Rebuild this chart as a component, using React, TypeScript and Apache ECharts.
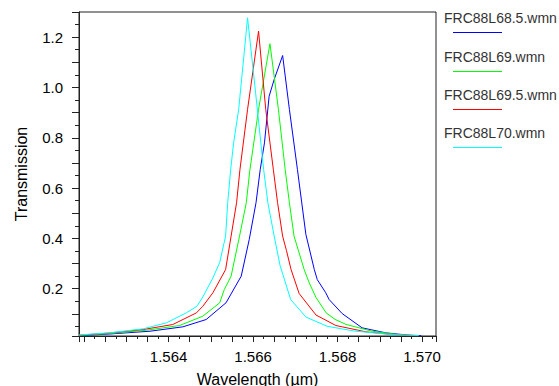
import React, { useEffect, useRef } from 'react';
import * as echarts from 'echarts';

const seriesNames = ['FRC88L68.5.wmn', 'FRC88L69.wmn', 'FRC88L69.5.wmn', 'FRC88L70.wmn'];
const seriesColors = ['#0000ff', '#00ff00', '#ff0000', '#00ffff'];

const blueWl = [1.56188, 1.56261, 1.56356, 1.56434, 1.56489, 1.56536, 1.56572, 1.56591, 1.56607, 1.56617, 1.56627, 1.56638, 1.5665, 1.5667, 1.56686, 1.56705, 1.56715, 1.56725, 1.56745, 1.56752, 1.56772, 1.5678, 1.56811, 1.56858, 1.56914, 1.56976, 1.56998];
const blueT = [0.013, 0.02, 0.031, 0.0485, 0.0775, 0.144, 0.25, 0.396, 0.542, 0.674, 0.78, 0.965, 1.032, 1.127, 0.913, 0.674, 0.545, 0.416, 0.276, 0.236, 0.184, 0.157, 0.101, 0.0445, 0.0246, 0.0139, 0.013];

const greenWl = [1.56188, 1.56261, 1.56348, 1.56426, 1.56481, 1.56521, 1.56532, 1.56548, 1.56568, 1.56584, 1.56592, 1.56613, 1.5664, 1.5666, 1.56676, 1.56686, 1.56697, 1.56721, 1.56733, 1.56749, 1.56773, 1.56794, 1.5682, 1.56882, 1.56961, 1.56992];
const greenT = [0.014, 0.022, 0.035, 0.0537, 0.0907, 0.144, 0.197, 0.25, 0.409, 0.542, 0.666, 0.913, 1.174, 0.913, 0.674, 0.542, 0.409, 0.276, 0.223, 0.165, 0.104, 0.078, 0.058, 0.031, 0.0139, 0.013];

const redWl = [1.56188, 1.56261, 1.5634, 1.5641, 1.56466, 1.56481, 1.56505, 1.56535, 1.56548, 1.56561, 1.56569, 1.56587, 1.56613, 1.5663, 1.56648, 1.56658, 1.5667, 1.56679, 1.5669, 1.56709, 1.56749, 1.56796, 1.56867, 1.56929, 1.56992];
const redT = [0.015, 0.024, 0.0378, 0.0577, 0.104, 0.13, 0.184, 0.276, 0.409, 0.542, 0.674, 0.913, 1.224, 0.913, 0.674, 0.542, 0.409, 0.352, 0.276, 0.181, 0.0954, 0.0537, 0.0286, 0.0179, 0.014];

const cyanWl = [1.56188, 1.56261, 1.5634, 1.56395, 1.56442, 1.56467, 1.56481, 1.56505, 1.56521, 1.56535, 1.5654, 1.56547, 1.56554, 1.56566, 1.56587, 1.56606, 1.56625, 1.56635, 1.5665, 1.56664, 1.56689, 1.56725, 1.56775, 1.56839, 1.56929, 1.56992];
const cyanT = [0.016, 0.0247, 0.0406, 0.0644, 0.104, 0.13, 0.167, 0.243, 0.304, 0.409, 0.542, 0.674, 0.78, 0.913, 1.277, 0.979, 0.674, 0.542, 0.409, 0.292, 0.157, 0.0875, 0.0509, 0.0318, 0.0179, 0.014];

const seriesWl = [blueWl, greenWl, redWl, cyanWl];
const seriesT = [blueT, greenT, redT, cyanT];

const FONT = '"Liberation Sans", Arial, sans-serif';
const AXIS_COLOR = '#222';

const isMult = (v: number, m: number) => Math.abs(v / m - Math.round(v / m)) < 1e-6;

export default function App() {
  const ref = useRef<HTMLDivElement>(null);
  useEffect(() => {
    if (!ref.current) return;
    const chart = echarts.init(ref.current, undefined, { renderer: 'svg' });
    const legendGraphics: any[] = [];
    seriesNames.forEach((name, i) => {
      const yc = 18.3 + 38.3 * i;
      legendGraphics.push({
        type: 'text',
        x: 444,
        y: yc,
        style: { text: name, fill: '#333', font: `14px ${FONT}`, textVerticalAlign: 'middle', textAlign: 'left' },
      });
      legendGraphics.push({
        type: 'line',
        shape: { x1: 453, y1: Math.round(yc + 14) + 0.5, x2: 502, y2: Math.round(yc + 14) + 0.5 },
        style: { stroke: seriesColors[i], lineWidth: 1 },
      });
    });
    chart.setOption({
      animation: false,
      backgroundColor: '#fff',
      grid: {
        left: 79, right: 123, top: 12, bottom: 50,
        show: true, borderColor: AXIS_COLOR, borderWidth: 1, backgroundColor: 'transparent',
        containLabel: false, outerBoundsMode: 'none',
      },
      xAxis: {
        type: 'value',
        min: 1.56188,
        max: 1.57033,
        minInterval: 0.0005,
        maxInterval: 0.0005,
        axisLine: { show: true, lineStyle: { color: AXIS_COLOR } },
        axisTick: { show: true, length: 6, lineStyle: { color: AXIS_COLOR, width: 1 } },
        minorTick: { show: true, splitNumber: 2, length: 3, lineStyle: { color: AXIS_COLOR, width: 1 } },
        splitLine: { show: false },
        axisLabel: {
          formatter: (v: number) => (v > 1.563 && isMult(v, 0.002) ? v.toFixed(3) : ''),
          fontSize: 15,
          color: '#000',
          fontFamily: FONT,
          margin: 13,
        },
        name: 'Wavelength (\u00b5m)',
        nameLocation: 'middle',
        nameGap: 35,
        nameTextStyle: { fontSize: 16, color: '#000', fontFamily: FONT },
      },
      yAxis: {
        type: 'value',
        min: 0.012,
        max: 1.3,
        minInterval: 0.1,
        maxInterval: 0.1,
        axisLine: { show: true, lineStyle: { color: AXIS_COLOR } },
        axisTick: { show: true, length: 7, lineStyle: { color: AXIS_COLOR, width: 1 } },
        minorTick: { show: true, splitNumber: 2, length: 4, lineStyle: { color: AXIS_COLOR, width: 1 } },
        splitLine: { show: false },
        axisLabel: {
          formatter: (v: number) => (isMult(v, 0.2) ? v.toFixed(1) : ''),
          fontSize: 15,
          color: '#000',
          fontFamily: FONT,
          margin: 16,
        },
        name: 'Transmission',
        nameLocation: 'middle',
        nameGap: 50,
        nameTextStyle: { fontSize: 16, color: '#000', fontFamily: FONT },
      },
      graphic: legendGraphics,
      series: seriesNames.map((name, i) => ({
        name,
        type: 'line',
        symbol: 'none',
        showSymbol: false,
        lineStyle: { width: 1, color: seriesColors[i] },
        itemStyle: { color: seriesColors[i] },
        data: seriesWl[i].map((w, j) => [w, seriesT[i][j]]),
      })),
    });
    return () => chart.dispose();
  }, []);
  return <div ref={ref} style={{ position: 'absolute', left: 0, top: 0, width: 559, height: 386 }} />;
}
